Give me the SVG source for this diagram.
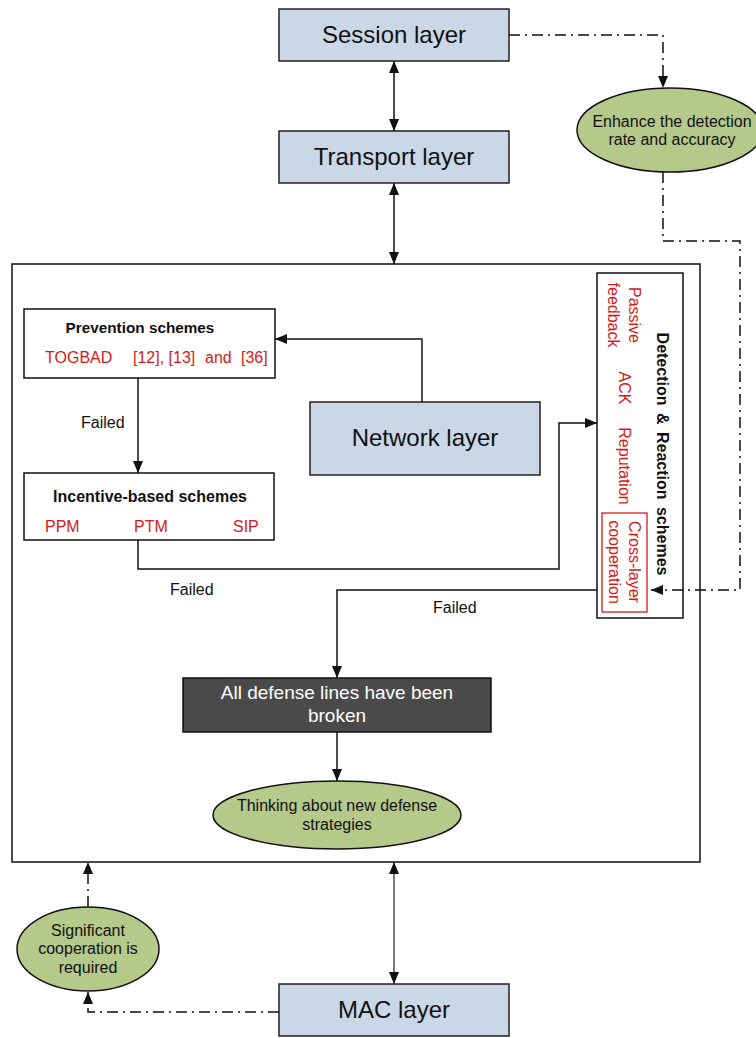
<svg xmlns="http://www.w3.org/2000/svg" width="756" height="1038" viewBox="0 0 756 1038">
<style>
text{font-family:"Liberation Sans",Arial,sans-serif;fill:#111}
.layer rect{fill:#c9d7e6;stroke:#222;stroke-width:1.5}
.layer text{font-size:24px;text-anchor:middle}
.ell ellipse{fill:#b5c98a;stroke:#111;stroke-width:1.5}
.ell text{font-size:16px;text-anchor:middle}
.box{fill:#fff;stroke:#111;stroke-width:1.5}
.title{font-weight:bold;font-size:16px;text-anchor:middle}
.red{fill:#d91818;font-size:16px}
.lbl{font-size:16px}
.c{fill:none;stroke:#111;stroke-width:1.5}
.thin{stroke-width:1.1}
.dd{fill:none;stroke:#111;stroke-width:1.5;stroke-dasharray:11 5 2 5}
</style>
<defs>
<marker id="ah" viewBox="0 0 12 10" refX="12" refY="5" markerWidth="12" markerHeight="10" markerUnits="userSpaceOnUse" orient="auto-start-reverse">
<path d="M0,0 L12,5 L0,10 z" fill="#111"/>
</marker>
</defs>

<g id="main-box"><rect x="12" y="264" width="688" height="598" class="box"/></g>

<g id="session" class="layer"><rect x="279" y="9" width="230" height="52"/><text x="394" y="43">Session layer</text></g>
<g id="transport" class="layer"><rect x="279" y="131" width="230" height="52"/><text x="394" y="165">Transport layer</text></g>
<g id="network" class="layer"><rect x="310" y="402" width="230" height="73"/><text x="425" y="446">Network layer</text></g>
<g id="mac" class="layer"><rect x="279" y="984" width="230" height="52"/><text x="394" y="1018">MAC layer</text></g>

<g id="enhance" class="ell"><ellipse cx="670" cy="130" rx="93" ry="42"/><text x="672" y="127">Enhance the detection</text><text x="672" y="145">rate and accuracy</text></g>

<g id="prevention">
<rect x="24" y="309" width="251" height="69" class="box"/>
<text x="140" y="333" class="title" style="font-size:15.3px">Prevention schemes</text>
<text x="45" y="363" class="red">TOGBAD</text>
<text x="133" y="363" class="red">[12], [13]</text>
<text x="205" y="363" class="red">and</text>
<text x="241" y="363" class="red">[36]</text>
</g>

<g id="incentive">
<rect x="24" y="473" width="250" height="67" class="box"/>
<text x="150" y="502" class="title">Incentive-based schemes</text>
<text x="45" y="532" class="red">PPM</text>
<text x="134" y="532" class="red">PTM</text>
<text x="233" y="532" class="red">SIP</text>
</g>

<g id="detection">
<rect x="597" y="273" width="86" height="345" class="box"/>
<text transform="translate(657,454) rotate(90)" class="title" style="word-spacing:3px">Detection &amp; Reaction schemes</text>
<text transform="translate(629,315) rotate(90)" class="red" text-anchor="middle">Passive</text>
<text transform="translate(608,315) rotate(90)" class="red" text-anchor="middle">feedback</text>
<text transform="translate(619,388) rotate(90)" class="red" text-anchor="middle">ACK</text>
<text transform="translate(619,466) rotate(90)" class="red" text-anchor="middle">Reputation</text>
<rect x="602" y="513" width="45" height="99" fill="none" stroke="#d91818" stroke-width="1.3"/>
<text transform="translate(629,562) rotate(90)" class="red" text-anchor="middle">Cross-layer</text>
<text transform="translate(609,562) rotate(90)" class="red" text-anchor="middle">cooperation</text>
</g>

<g id="broken">
<rect x="183" y="678" width="308" height="54" fill="#4a4a4a" stroke="#111" stroke-width="1.5"/>
<text x="337" y="699" style="fill:#fff;font-size:19px;text-anchor:middle">All defense lines have been</text>
<text x="337" y="722" style="fill:#fff;font-size:19px;text-anchor:middle">broken</text>
</g>

<g id="thinking" class="ell"><ellipse cx="337" cy="815" rx="124" ry="34"/><text x="337" y="811">Thinking about new defense</text><text x="337" y="830">strategies</text></g>

<g id="significant" class="ell"><ellipse cx="88" cy="949" rx="71" ry="42"/><text x="88" y="936">Significant</text><text x="88" y="954">cooperation is</text><text x="88" y="973">required</text></g>

<g id="connectors">
<path d="M394,61 V131" class="c" marker-start="url(#ah)" marker-end="url(#ah)"/>
<path d="M394,183 V264" class="c" marker-start="url(#ah)" marker-end="url(#ah)"/>
<path d="M509,35 H663 V88" class="dd" marker-end="url(#ah)"/>
<path d="M663,172 V241 H740 V590 H651" class="dd" marker-end="url(#ah)"/>
<path d="M422,402 V339 H275" class="c" marker-end="url(#ah)"/>
<path d="M138,378 V473" class="c" marker-end="url(#ah)"/>
<text x="81" y="428" class="lbl">Failed</text>
<path d="M138,540 V569 H559 V423 H597" class="c" marker-end="url(#ah)"/>
<text x="170" y="595" class="lbl">Failed</text>
<path d="M597,590 H337 V678" class="c" marker-end="url(#ah)"/>
<text x="433" y="613" class="lbl">Failed</text>
<path d="M337,732 V781" class="c" marker-end="url(#ah)"/>
<path d="M394,862 V984" class="c thin" marker-start="url(#ah)" marker-end="url(#ah)"/>
<path d="M279,1012 H88 V992" class="dd" marker-end="url(#ah)"/>
<path d="M88,907 V862" class="dd" marker-end="url(#ah)"/>
</g>
</svg>
